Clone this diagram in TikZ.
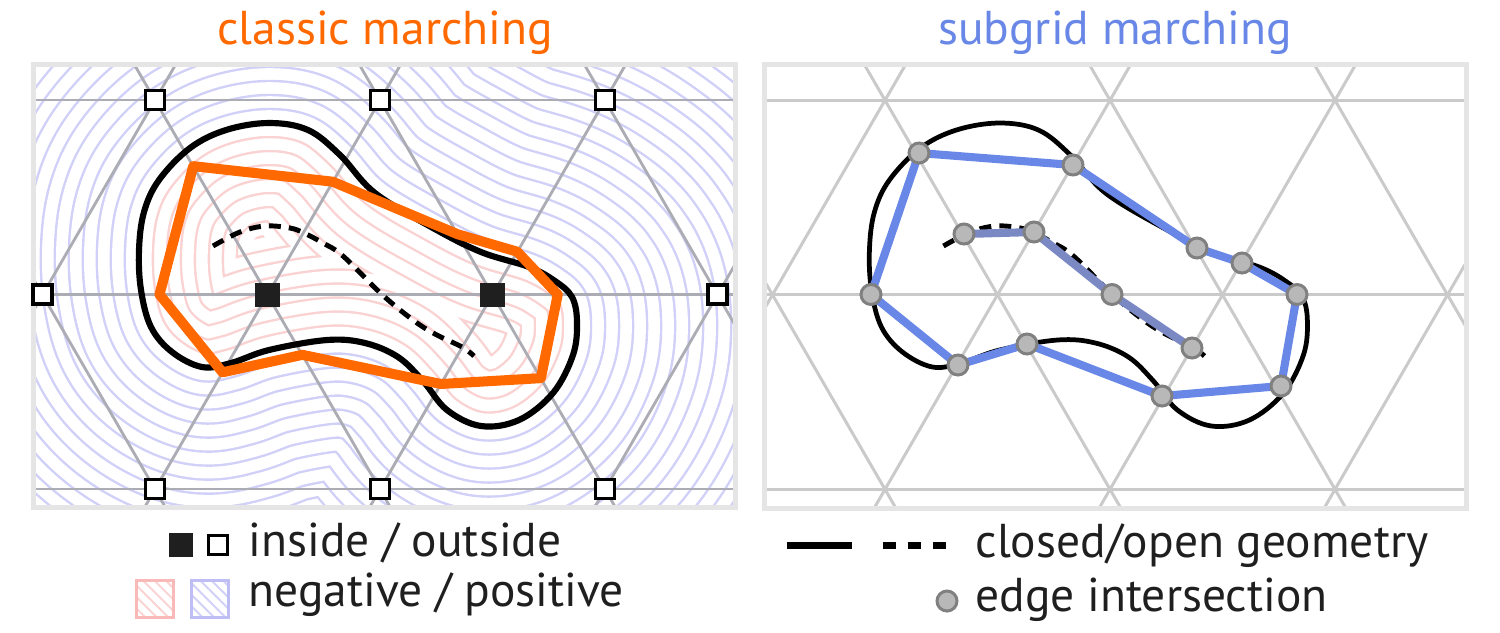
\documentclass[tikz,border=0pt]{standalone}
\usepackage{fontspec}
\setmainfont{PT Sans}
\usetikzlibrary{calc,patterns.meta}

\definecolor{classicorange}{RGB}{255,105,0}
\definecolor{subgridblue}{RGB}{105,135,230}
\definecolor{openblue}{RGB}{122,136,196}
\definecolor{poscontour}{RGB}{208,208,248}
\definecolor{negcontour}{RGB}{250,210,210}
\definecolor{posswatch}{RGB}{190,190,245}
\definecolor{negswatch}{RGB}{250,185,185}
\definecolor{framegray}{RGB}{229,229,229}
\definecolor{gridleft}{RGB}{172,172,180}
\definecolor{gridright}{RGB}{202,202,202}
\definecolor{ptfill}{RGB}{184,184,184}
\definecolor{ptdraw}{RGB}{128,128,128}

% the geometry, in pixel units of the panel on the left
\newcommand{\blobpath}{plot[smooth cycle, tension=0.6] coordinates {(269,-123) (308,-130) (340,-155) (375,-193) (433,-228) (481,-252) (529,-267) (555,-281) (572,-297) (577,-322) (573,-355) (553,-393) (519,-420) (481,-426) (447,-410) (423,-381) (398,-357) (365,-343) (327,-340) (269,-350) (231,-363) (202,-367) (172,-352) (151,-327) (141,-290) (139,-250) (144,-212) (159,-180) (190,-148) (226,-130)}}
\newcommand{\openpath}{plot[smooth, tension=0.6] coordinates {(213,-246) (240,-232) (265,-226) (290,-228) (304,-233) (323,-243) (343,-256) (382,-294.5) (413,-320) (435,-334) (462,-347) (474,-356)}}

\begin{document}
\begin{tikzpicture}[x=0.01cm, y=0.01cm]
\tikzstyle{every node}+=[inner sep=0pt]
\tikzstyle{titletext}=[font=\fontsize{13.5}{16}\selectfont, anchor=base]
\tikzstyle{legendtext}=[font=\fontsize{13.5}{16}\selectfont, text=black!88, anchor=base west]
\tikzstyle{panelframe}=[framegray, line width=1.42pt]
\tikzstyle{leftgrid}=[gridleft, line width=0.8pt]
\tikzstyle{rightgrid}=[gridright, line width=0.85pt]
\tikzstyle{outpt}=[draw=black, fill=white, line width=1.1pt, minimum size=0.19cm]
\tikzstyle{inpt}=[fill=black!88, minimum size=0.24cm]
\tikzstyle{edgept}=[circle, draw=ptdraw, fill=ptfill, line width=0.85pt, minimum size=0.2cm]
\tikzstyle{swatch}=[line width=0.85pt, minimum size=0.37cm, pattern={Lines[angle=-45, distance=2.3pt, line width=0.55pt]}]
\useasboundingbox (0,0) rectangle (1500,-632);

% titles
\node[titletext, text=classicorange] (classictitle) at (385,-44) {classic marching};
\node[titletext, text=subgridblue] (subgridtitle) at (1115,-44) {subgrid marching};

% left panel: signed distance contours
\begin{scope}
\clip (36,-67) rectangle (733,-505);
\foreach \d in {420,406,...,14} {
  \pgfmathsetmacro\wa{(2*\d+2.4)*0.2845}
  \pgfmathsetmacro\wb{(2*\d-2.4)*0.2845}
  \draw[poscontour, line width=\wa pt, line join=round] \blobpath;
  \draw[white, line width=\wb pt, line join=round] \blobpath;
}
\begin{scope}
\clip \blobpath;
\fill[white] (36,-67) rectangle (733,-505);
\foreach \d in {140,126,...,14} {
  \pgfmathsetmacro\wa{(2*\d+2.4)*0.2845}
  \pgfmathsetmacro\wb{(2*\d-2.4)*0.2845}
  \draw[negcontour, line width=\wa pt, line join=round] \blobpath;
  \draw[white, line width=\wb pt, line join=round] \blobpath;
}
\end{scope}
% triangle grid
\foreach \k in {-1,...,4} {
  \pgfmathsetmacro\gx{42.5+225*\k}
  \draw[leftgrid] (\gx-225,-683.9) -- (\gx+225,94.3);
  \draw[leftgrid] (\gx-225,94.3) -- (\gx+225,-683.9);
}
\foreach \gy in {100,294.5,489}
  \draw[leftgrid] (0,-\gy) -- (800,-\gy);
\end{scope}
\draw[panelframe] (33.5,-64.5) rectangle (735.5,-507.5);

% grid vertices
\node[outpt] (tl) at (155,-100) {};
\node[outpt] (tm) at (380,-100) {};
\node[outpt] (tr) at (605,-100) {};
\node[outpt] (ml) at (42.5,-294.5) {};
\node[inpt] (ia) at (267.5,-294.5) {};
\node[inpt] (ib) at (492.5,-294.5) {};
\node[outpt] (mr) at (717.5,-294.5) {};
\node[outpt] (bl) at (155,-489) {};
\node[outpt] (bm) at (380,-489) {};
\node[outpt] (br) at (605,-489) {};

\draw[black, line width=1.75pt] \blobpath;
\draw[black, line width=1.4pt, dash pattern=on 3.4pt off 2.3pt] \openpath;
\draw[classicorange, line width=2.85pt, line join=round]
  ($(ia)!0.66!(tl)$) -- ($(ia)!0.58!(tm)$) -- ($(ib)!0.31!(tm)$) -- ($(ib)!0.22!(tr)$)
  -- ($(ib)!0.29!(mr)$) -- ($(ib)!0.43!(br)$) -- ($(ib)!0.46!(bm)$) -- ($(ia)!0.31!(bm)$)
  -- ($(ia)!0.40!(bl)$) -- ($(ia)!0.48!(ml)$) -- cycle;

% right panel
\begin{scope}
\clip (767,-67) rectangle (1464,-506);
\foreach \k in {-1,...,4} {
  \pgfmathsetmacro\gx{772.5+225*\k}
  \draw[rightgrid] (\gx-225,-683.9) -- (\gx+225,94.3);
  \draw[rightgrid] (\gx-225,94.3) -- (\gx+225,-683.9);
}
\foreach \gy in {100,294.5,489}
  \draw[rightgrid] (700,-\gy) -- (1500,-\gy);
\end{scope}
\draw[panelframe] (764.5,-64.5) rectangle (1466.5,-508.5);

\begin{scope}[xshift=7.3cm]
\draw[black, line width=1.35pt] \blobpath;
\draw[black, line width=1.4pt, dash pattern=on 3.4pt off 2.3pt] \openpath;
\end{scope}

\coordinate (c1) at (919,-153);
\coordinate (c2) at (1073,-165);
\coordinate (c3) at (1197,-248);
\coordinate (c4) at (1242,-263);
\coordinate (c5) at (1297,-294.5);
\coordinate (c6) at (1281,-386);
\coordinate (c7) at (1162,-396);
\coordinate (c8) at (1027,-344);
\coordinate (c9) at (958,-365);
\coordinate (c10) at (871,-294.5);
\coordinate (o1) at (964,-234);
\coordinate (o2) at (1034,-232);
\coordinate (o3) at (1112,-294.5);
\coordinate (o4) at (1192,-348);

\draw[subgridblue, line width=2.3pt, line join=round]
  (c1) -- (c2) -- (c3) -- (c4) -- (c5) -- (c6) -- (c7) -- (c8) -- (c9) -- (c10) -- cycle;
\draw[openblue, line width=2.3pt, line join=round] (o1) -- (o2) -- (o3) -- (o4);
\foreach \n in {c1,c2,c3,c4,c5,c6,c7,c8,c9,c10,o1,o2,o3,o4}
  \node[edgept] (\n pt) at (\n) {};

% legend, left
\node[inpt] (legin) at (181,-545) {};
\node[outpt] (legout) at (218,-545) {};
\node[legendtext] (inouttext) at (248,-556) {inside / outside};
\node[swatch, draw=negswatch, pattern color=negcontour] (legneg) at (155,-599) {};
\node[swatch, draw=posswatch, pattern color=poscontour] (legpos) at (210,-599) {};
\node[legendtext] (signtext) at (248,-606) {negative / positive};

% legend, right
\coordinate (solidA) at (787,-545);
\coordinate (solidB) at (852,-545);
\coordinate (dashA) at (883,-545);
\coordinate (dashB) at (946,-545);
\draw[black, line width=2pt] (solidA) -- (solidB);
\draw[black, line width=2pt, dash pattern=on 3.7pt off 3.4pt] (dashA) -- (dashB);
\node[legendtext] (geomtext) at (975,-557) {closed/open geometry};
\node[edgept] (legedge) at (947,-601) {};
\node[legendtext] (edgetext) at (975,-611) {edge intersection};
\end{tikzpicture}
\end{document}
